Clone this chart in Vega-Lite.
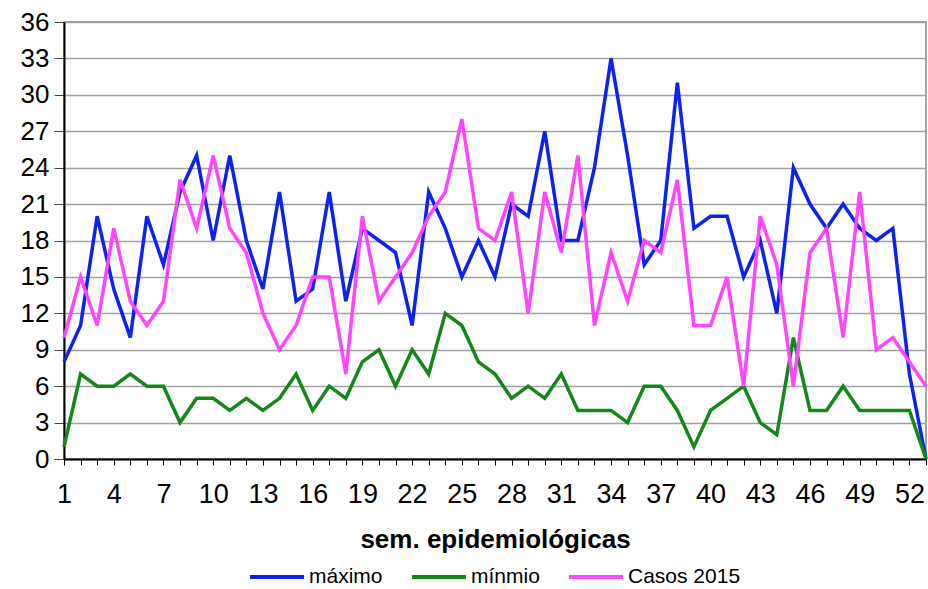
{
  "$schema": "https://vega.github.io/schema/vega-lite/v6.json",
  "width": 862,
  "height": 437,
  "autosize": {"type": "none"},
  "padding": {"left": 64, "top": 22, "right": 2, "bottom": 130},
  "background": "white",
  "config": {
    "font": "Liberation Sans",
    "view": {"stroke": "#888888", "strokeWidth": 1.5}
  },
  "data": {
    "values": [
      {"sem": 1, "máximo": 8, "mínmio": 1, "Casos 2015": 10},
      {"sem": 2, "máximo": 11, "mínmio": 7, "Casos 2015": 15},
      {"sem": 3, "máximo": 20, "mínmio": 6, "Casos 2015": 11},
      {"sem": 4, "máximo": 14, "mínmio": 6, "Casos 2015": 19},
      {"sem": 5, "máximo": 10, "mínmio": 7, "Casos 2015": 13},
      {"sem": 6, "máximo": 20, "mínmio": 6, "Casos 2015": 11},
      {"sem": 7, "máximo": 16, "mínmio": 6, "Casos 2015": 13},
      {"sem": 8, "máximo": 22, "mínmio": 3, "Casos 2015": 23},
      {"sem": 9, "máximo": 25, "mínmio": 5, "Casos 2015": 19},
      {"sem": 10, "máximo": 18, "mínmio": 5, "Casos 2015": 25},
      {"sem": 11, "máximo": 25, "mínmio": 4, "Casos 2015": 19},
      {"sem": 12, "máximo": 18, "mínmio": 5, "Casos 2015": 17},
      {"sem": 13, "máximo": 14, "mínmio": 4, "Casos 2015": 12},
      {"sem": 14, "máximo": 22, "mínmio": 5, "Casos 2015": 9},
      {"sem": 15, "máximo": 13, "mínmio": 7, "Casos 2015": 11},
      {"sem": 16, "máximo": 14, "mínmio": 4, "Casos 2015": 15},
      {"sem": 17, "máximo": 22, "mínmio": 6, "Casos 2015": 15},
      {"sem": 18, "máximo": 13, "mínmio": 5, "Casos 2015": 7},
      {"sem": 19, "máximo": 19, "mínmio": 8, "Casos 2015": 20},
      {"sem": 20, "máximo": 18, "mínmio": 9, "Casos 2015": 13},
      {"sem": 21, "máximo": 17, "mínmio": 6, "Casos 2015": 15},
      {"sem": 22, "máximo": 11, "mínmio": 9, "Casos 2015": 17},
      {"sem": 23, "máximo": 22, "mínmio": 7, "Casos 2015": 20},
      {"sem": 24, "máximo": 19, "mínmio": 12, "Casos 2015": 22},
      {"sem": 25, "máximo": 15, "mínmio": 11, "Casos 2015": 28},
      {"sem": 26, "máximo": 18, "mínmio": 8, "Casos 2015": 19},
      {"sem": 27, "máximo": 15, "mínmio": 7, "Casos 2015": 18},
      {"sem": 28, "máximo": 21, "mínmio": 5, "Casos 2015": 22},
      {"sem": 29, "máximo": 20, "mínmio": 6, "Casos 2015": 12},
      {"sem": 30, "máximo": 27, "mínmio": 5, "Casos 2015": 22},
      {"sem": 31, "máximo": 18, "mínmio": 7, "Casos 2015": 17},
      {"sem": 32, "máximo": 18, "mínmio": 4, "Casos 2015": 25},
      {"sem": 33, "máximo": 24, "mínmio": 4, "Casos 2015": 11},
      {"sem": 34, "máximo": 33, "mínmio": 4, "Casos 2015": 17},
      {"sem": 35, "máximo": 25, "mínmio": 3, "Casos 2015": 13},
      {"sem": 36, "máximo": 16, "mínmio": 6, "Casos 2015": 18},
      {"sem": 37, "máximo": 18, "mínmio": 6, "Casos 2015": 17},
      {"sem": 38, "máximo": 31, "mínmio": 4, "Casos 2015": 23},
      {"sem": 39, "máximo": 19, "mínmio": 1, "Casos 2015": 11},
      {"sem": 40, "máximo": 20, "mínmio": 4, "Casos 2015": 11},
      {"sem": 41, "máximo": 20, "mínmio": 5, "Casos 2015": 15},
      {"sem": 42, "máximo": 15, "mínmio": 6, "Casos 2015": 6},
      {"sem": 43, "máximo": 18, "mínmio": 3, "Casos 2015": 20},
      {"sem": 44, "máximo": 12, "mínmio": 2, "Casos 2015": 16},
      {"sem": 45, "máximo": 24, "mínmio": 10, "Casos 2015": 6},
      {"sem": 46, "máximo": 21, "mínmio": 4, "Casos 2015": 17},
      {"sem": 47, "máximo": 19, "mínmio": 4, "Casos 2015": 19},
      {"sem": 48, "máximo": 21, "mínmio": 6, "Casos 2015": 10},
      {"sem": 49, "máximo": 19, "mínmio": 4, "Casos 2015": 22},
      {"sem": 50, "máximo": 18, "mínmio": 4, "Casos 2015": 9},
      {"sem": 51, "máximo": 19, "mínmio": 4, "Casos 2015": 10},
      {"sem": 52, "máximo": 7, "mínmio": 4, "Casos 2015": 8},
      {"sem": 53, "máximo": 0, "mínmio": 0, "Casos 2015": 6}
    ]
  },
  "transform": [
    {"fold": ["máximo", "mínmio", "Casos 2015"], "as": ["serie", "valor"]}
  ],
  "mark": {"type": "line", "strokeWidth": 3.5, "strokeJoin": "miter"},
  "encoding": {
    "x": {
      "field": "sem",
      "type": "quantitative",
      "scale": {"domain": [1, 53], "nice": false, "zero": false},
      "axis": {
        "title": "sem. epidemiológicas",
        "titleFontSize": 26,
        "titleFontWeight": "bold",
        "titleColor": "black",
        "titlePadding": 19,
        "values": [1,2,3,4,5,6,7,8,9,10,11,12,13,14,15,16,17,18,19,20,21,22,23,24,25,26,27,28,29,30,31,32,33,34,35,36,37,38,39,40,41,42,43,44,45,46,47,48,49,50,51,52,53],
        "labelExpr": "(datum.value - 1) % 3 == 0 ? datum.label : ''",
        "labelFontSize": 27,
        "labelColor": "black",
        "labelPadding": 16,
        "labelOverlap": false,
        "labelFlush": false,
        "grid": false,
        "tickSize": 6,
        "tickColor": "black",
        "tickWidth": 1,
        "domainColor": "black",
        "domainWidth": 2
      }
    },
    "y": {
      "field": "valor",
      "type": "quantitative",
      "scale": {"domain": [0, 36], "nice": false},
      "axis": {
        "title": null,
        "values": [0,3,6,9,12,15,18,21,24,27,30,33,36],
        "labelFontSize": 26,
        "labelColor": "black",
        "labelPadding": 5,
        "tickSize": 10,
        "tickColor": "#444444",
        "domainColor": "black",
        "domainWidth": 2,
        "grid": true,
        "gridColor": "#a0a0a0",
        "gridWidth": 1.5
      }
    },
    "color": {
      "field": "serie",
      "type": "nominal",
      "sort": ["máximo", "mínmio", "Casos 2015"],
      "scale": {"domain": ["máximo", "mínmio", "Casos 2015"], "range": ["#0c22f0", "#14871a", "#ff45ff"]},
      "legend": {
        "title": null,
        "orient": "none",
        "legendX": 184,
        "legendY": 526,
        "padding": 0,
        "direction": "horizontal",
        "symbolType": "stroke",
        "symbolStrokeWidth": 4,
        "symbolSize": 2916,
        "labelFontSize": 21,
        "labelColor": "black",
        "labelOffset": 3,
        "columnPadding": 21
      }
    },
    "order": {"field": "serie", "sort": "ascending"}
  }
}
